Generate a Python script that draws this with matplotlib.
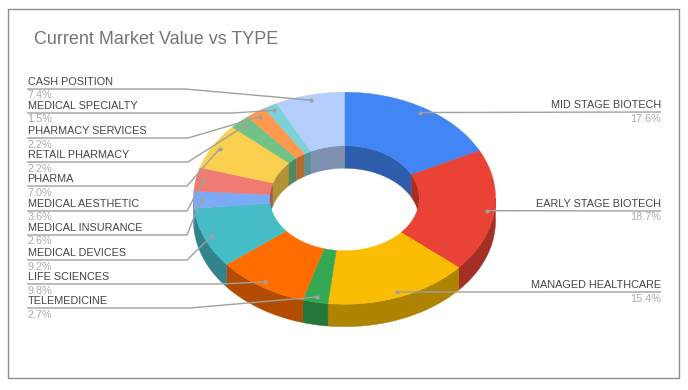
"""Current Market Value vs TYPE as a tilted 3D style donut."""

import numpy as np
import matplotlib

matplotlib.use("Agg")
import matplotlib.pyplot as plt
from matplotlib.colors import to_rgb
from matplotlib.patches import Polygon, Rectangle

plt.rcParams["font.family"] = ["Liberation Sans", "DejaVu Sans"]

# Clockwise from 12 o'clock
categories = [
    "MID STAGE BIOTECH", "EARLY STAGE BIOTECH", "MANAGED HEALTHCARE",
    "TELEMEDICINE", "LIFE SCIENCES", "MEDICAL DEVICES", "MEDICAL INSURANCE",
    "MEDICAL AESTHETIC", "PHARMA", "RETAIL PHARMACY", "PHARMACY SERVICES",
    "MEDICAL SPECIALTY", "CASH POSITION",
]
shares = [17.6, 18.7, 15.4, 2.7, 9.8, 9.2, 2.6, 3.6, 7.0, 2.2, 2.2, 1.5, 7.4]
colors = [
    "#4285F4", "#EA4335", "#FBBC04", "#34A853", "#FF6D01", "#46BDC6", "#7BAAF7",
    "#F07B72", "#FCD04F", "#71C287", "#FF994D", "#7ED1D7", "#B3CEFB",
]

# Pixel layout of the donut
CX, CY = 344.5, 198.2
RX, RY = 151.0, 106.0
INNER = 0.495
DEPTH = 22.5
DOT_RADIUS = 0.95
SHADE = 0.7

# Leader line layout: height of each label rule, and the x of its elbow
label_rule_y = [112, 211, 292, 308, 284, 260, 235, 211, 186, 162, 138, 113, 89]
label_elbow_x = [None, None, None, 190, 218, 187, 187, 187, 187, 188, 188, 232, 185]


def ring_point(turn, scale=1.0, drop=0.0):
    """Position on the tilted ring, with turn in radians clockwise from the top."""
    x = CX + RX * scale * np.sin(turn)
    y = CY - RY * scale * np.cos(turn) + drop
    return np.column_stack([x, y])


def arc(start, end):
    """Sample an angle range, with at least two points."""
    count = max(2, int(abs(end - start) / np.radians(1.0)) + 2)
    return np.linspace(start, end, count)


def band(ax, start, end, scale, color, zorder):
    """Draw a vertical wall between two angles at one radius."""
    if end <= start:
        return
    turns = arc(start, end)
    outline = np.vstack([ring_point(turns, scale), ring_point(turns[::-1], scale, DEPTH)])
    ax.add_patch(Polygon(outline, closed=True, facecolor=color, edgecolor=color, linewidth=0.3, zorder=zorder))


def draw_donut(ax, starts, ends):
    """Draw walls first, then the top faces over them."""
    for start, end, color in zip(starts, ends, colors):
        wall = tuple(SHADE * c for c in to_rgb(color))
        # Outer wall shows on the front half only
        band(ax, max(start, np.pi / 2), min(end, 3 * np.pi / 2), 1.0, wall, 1)
        # Inner wall shows on the back half only
        band(ax, start, min(end, np.pi / 2), INNER, wall, 2)
        band(ax, max(start, 3 * np.pi / 2), end, INNER, wall, 2)

    for start, end, color in zip(starts, ends, colors):
        turns = arc(start, end)
        outline = np.vstack([ring_point(turns), ring_point(turns[::-1], INNER)])
        ax.add_patch(Polygon(outline, closed=True, facecolor=color, edgecolor=color, linewidth=0.3, zorder=3))


def draw_labels(ax, middles):
    """Draw leader lines with the name above and the share below each rule."""
    for name, share, turn, rule_y, elbow in zip(categories, shares, middles, label_rule_y, label_elbow_x):
        dot = ring_point(np.array([turn]), DOT_RADIUS)[0]
        if elbow is None:
            # Right side labels run level from the dot
            xs, ys = [dot[0], 661], [dot[1], rule_y]
            text_x, align = 661, "right"
        else:
            xs, ys = [27, elbow, dot[0]], [rule_y, rule_y, dot[1]]
            text_x, align = 27.5, "left"
        ax.plot(xs, ys, color="#a0a0a0", linewidth=1.0, solid_capstyle="butt", zorder=4)
        ax.plot(dot[0], dot[1], "o", color="#a0a0a0", markersize=3, markeredgewidth=0, zorder=5)
        ax.text(text_x, rule_y - 7, name, ha=align, va="center", fontsize=7.85, color="#444444", zorder=6)
        ax.text(text_x, rule_y + 6.5, f"{share:.1f}%", ha=align, va="center", fontsize=7.85, color="#ababab", zorder=6)


def main():
    fig, ax = plt.subplots(figsize=(6.88, 3.9), dpi=100)
    fig.subplots_adjust(left=0, right=1, top=1, bottom=0)
    ax.set_xlim(0, 688)
    ax.set_ylim(390, 0)
    ax.set_axis_off()

    ax.add_patch(Rectangle((8, 9), 671, 369, facecolor="white", edgecolor="#8c8c8c", linewidth=1.0, zorder=0))
    ax.text(34, 40, "Current Market Value vs TYPE", ha="left", va="center", fontsize=13, color="#757575")

    fractions = np.array(shares) / sum(shares)
    ends = np.cumsum(fractions) * 2 * np.pi
    starts = ends - fractions * 2 * np.pi

    draw_donut(ax, starts, ends)
    draw_labels(ax, (starts + ends) / 2)

    fig.savefig("out.png", dpi=100, facecolor="white")
    plt.close(fig)


main()
